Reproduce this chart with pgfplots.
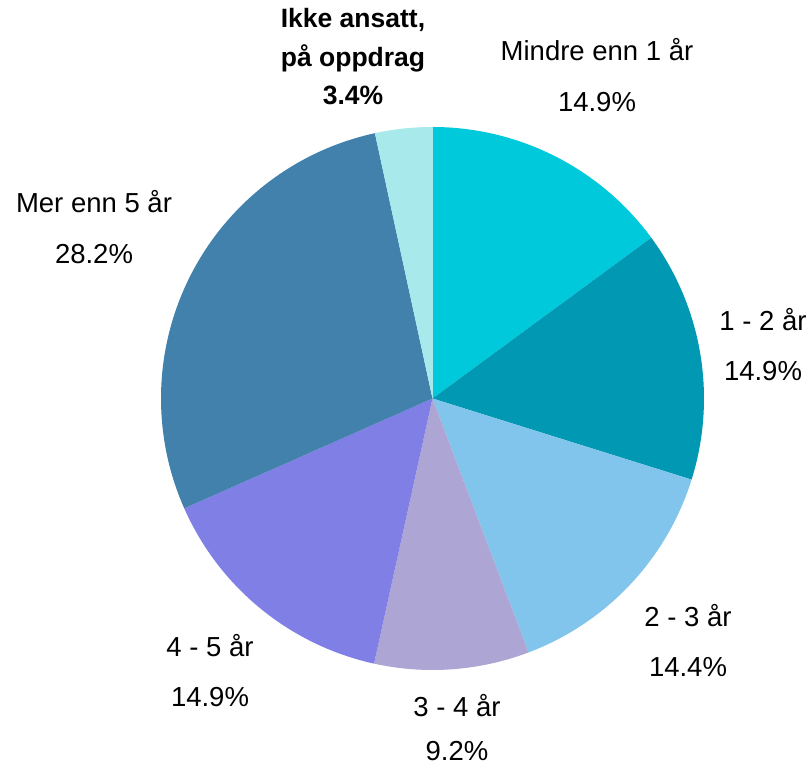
\documentclass[border=0pt]{standalone}
\usepackage{pgfplots}
\usepackage{pgfplotstable}
\pgfplotsset{compat=1.18}
\usepackage{fontspec}
\setmainfont{Liberation Sans}

\definecolor{cA}{HTML}{00C9DC}
\definecolor{cB}{HTML}{0098B3}
\definecolor{cC}{HTML}{81C4EC}
\definecolor{cD}{HTML}{ADA5D4}
\definecolor{cE}{HTML}{7F7FE6}
\definecolor{cF}{HTML}{4281AB}
\definecolor{cG}{HTML}{A8E9EC}

\pgfplotstableread{
idx value cum
0 14.9 14.9
1 14.9 29.8
2 14.4 44.2
3 9.2 53.4
4 14.9 68.3
5 28.2 96.5
6 3.4 99.9
}\piedata

\begin{document}
\begin{tikzpicture}
\begin{axis}[
  width=810bp, height=767bp, scale only axis,
  xmin=0, xmax=810, ymin=-767, ymax=0,
  hide axis, clip=false,
]
\addplot[draw=none, mark=none] coordinates {(0,0) (810,-767)};
\pgfplotsextra{
  \foreach \i/\col in {0/cA,1/cB,2/cC,3/cD,4/cE,5/cF,6/cG}{
    \pgfplotstablegetelem{\i}{value}\of{\piedata}\let\pieval\pgfplotsretval
    \pgfplotstablegetelem{\i}{cum}\of{\piedata}\let\piecum\pgfplotsretval
    \pgfmathsetmacro\sa{90-(\piecum-\pieval)/99.9*360}
    \pgfmathsetmacro\ea{90-\piecum/99.9*360}
    \fill[\col] (axis cs:432.5,-398.5) -- ++(\sa:271.5bp) arc[start angle=\sa, end angle=\ea, radius=271.5bp] -- cycle;
  }
}
\tikzset{lbl/.style={font=\fontsize{27.5bp}{32bp}\selectfont, text=black, anchor=center, inner sep=0pt}}
\node[lbl] at (axis cs:597,-50) {Mindre enn 1 år};
\node[lbl] at (axis cs:597,-102) {14.9\%};
\node[lbl] at (axis cs:763,-320) {1 - 2 år};
\node[lbl] at (axis cs:763,-371) {14.9\%};
\node[lbl] at (axis cs:688,-616) {2 - 3 år};
\node[lbl] at (axis cs:688,-667) {14.4\%};
\node[lbl] at (axis cs:457,-706) {3 - 4 år};
\node[lbl] at (axis cs:457,-751) {9.2\%};
\node[lbl] at (axis cs:210,-646) {4 - 5 år};
\node[lbl] at (axis cs:210,-697) {14.9\%};
\node[lbl] at (axis cs:94,-202) {Mer enn 5 år};
\node[lbl] at (axis cs:94,-254) {28.2\%};
\node[lbl,font=\bfseries\fontsize{26.5bp}{31bp}\selectfont] at (axis cs:353,-20) {Ikke ansatt,};
\node[lbl,font=\bfseries\fontsize{26.5bp}{31bp}\selectfont] at (axis cs:353,-58) {på oppdrag};
\node[lbl,font=\bfseries\fontsize{26.5bp}{31bp}\selectfont] at (axis cs:353,-95) {3.4\%};
\end{axis}
\end{tikzpicture}
\end{document}
